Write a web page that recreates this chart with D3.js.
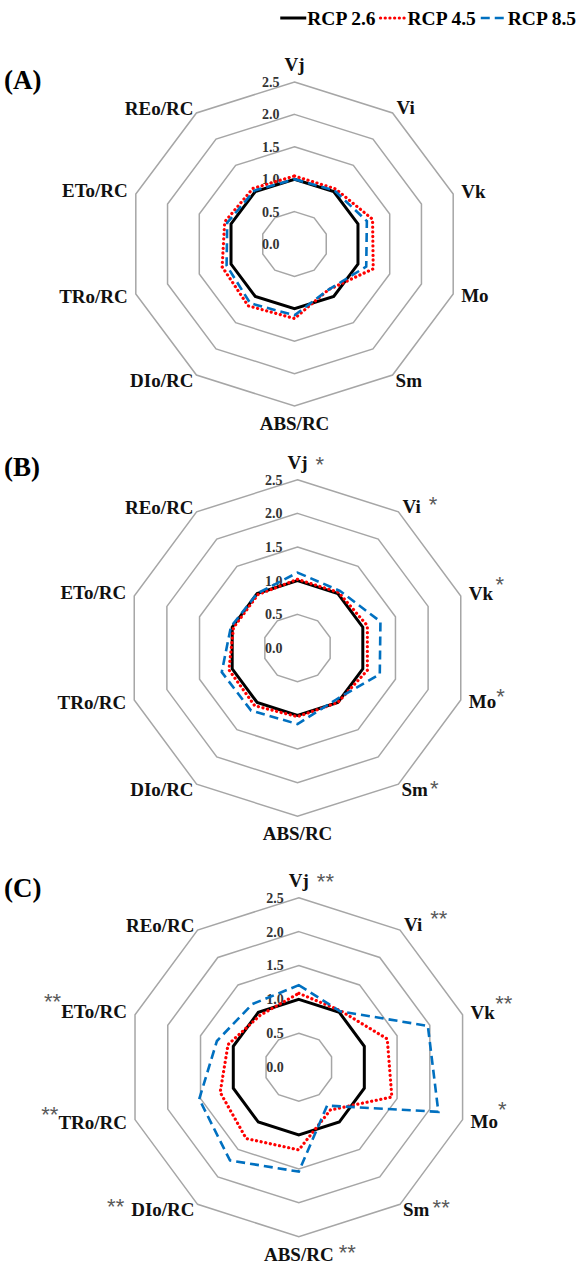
<!DOCTYPE html>
<html>
<head>
<meta charset="utf-8">
<script src="https://cdn.jsdelivr.net/npm/d3@7"></script>
<style>
  body { margin: 0; background: #fff; }
  svg { display: block; }
</style>
</head>
<body>
<div id="chart"></div>
<script>
// axes of the radar, clockwise from the top
const axes = ["Vj", "Vi", "Vk", "Mo", "Sm", "ABS/RC", "DIo/RC", "TRo/RC", "ETo/RC", "REo/RC"];
const series = ["RCP 2.6", "RCP 4.5", "RCP 8.5"];
const ticks = [0, 0.5, 1.0, 1.5, 2.0, 2.5];
const panels = ["(A)", "(B)", "(C)"];

// values
const rcp26A = [1, 1, 1, 1, 1, 1, 1, 1, 1, 1];
const rcp45A = [1.05, 1.05, 1.23, 1.24, 0.87, 1.15, 1.18, 1.14, 1.10, 1.06];
const rcp85A = [1.00, 1.02, 1.14, 1.13, 0.87, 1.10, 1.13, 1.07, 1.06, 1.02];

const rcp26B = [1, 1, 1, 1, 1, 1, 1, 1, 1, 1];
const rcp45B = [1.02, 1.02, 1.07, 1.07, 1.00, 1.02, 1.06, 1.05, 0.98, 0.98];
const rcp85B = [1.12, 1.05, 1.27, 1.26, 0.95, 1.13, 1.15, 1.16, 1.02, 1.00];

const rcp26C = [1, 1, 1, 1, 1, 1, 1, 1, 1, 1];
const rcp45C = [1.09, 1.03, 1.35, 1.42, 0.78, 1.22, 1.30, 1.20, 1.08, 0.95];
const rcp85C = [1.21, 1.02, 1.97, 2.13, 0.70, 1.54, 1.70, 1.52, 1.25, 1.15];

// significance marks per axis
const starsA = ["", "", "", "", "", "", "", "", "", ""];
const starsB = ["*", "*", "*", "*", "*", "", "", "", "", ""];
const starsC = ["**", "**", "**", "*", "**", "**", "**", "**", "**", ""];

const W = 578, H = 1266;
const serif = "'Liberation Serif', 'Times New Roman', 'DejaVu Serif', serif";

const svg = d3.select("#chart")
  .append("svg")
  .attr("width", W)
  .attr("height", H);

svg.append("rect").attr("width", W).attr("height", H).attr("fill", "#fff");

const styles = [
  { color: "#000000", width: 3, dash: null, cap: "butt" },
  { color: "#ff0000", width: 3.2, dash: "0.1 4.6", cap: "round" },
  { color: "#0070c0", width: 2.6, dash: "9 5", cap: "butt" }
];

// where each radar sits (centre, outer radius, small horizontal stretch)
const layout = [
  { cx: 294.5, cy: 244, R: 162, sx: 1.03, letterY: 89, data: [rcp26A, rcp45A, rcp85A], stars: starsA },
  { cx: 297.5, cy: 648, R: 168.3, sx: 1.02, letterY: 476, data: [rcp26B, rcp45B, rcp85B], stars: starsB },
  { cx: 298.8, cy: 1067.2, R: 169.5, sx: 1.016, letterY: 897, data: [rcp26C, rcp45C, rcp85C], stars: starsC }
];

// label offsets from the outer vertex: [dx, dy, anchor]
const labelPos = [
  [0, -11, "middle"], [4, 1, "start"], [8, 4, "start"], [8, 8, "start"], [3, 12, "start"],
  [0, 24, "middle"], [-3, 12, "end"], [-8, 9, "end"], [-8, 3, "end"], [-3, 2, "end"]
];
// asterisk placement: side, gap, raise above baseline (per panel)
const starPosB = [
  ["after", 8, 9], ["after", 8, 13], ["after", 2, 20], ["after", 0, 17], ["after", 2, 13]
];
const starPosC = [
  ["after", 8, 10], ["after", 8, 18], ["after", 0, 20], ["after", 0, 23], ["after", 3, 14],
  ["after", 5, 13], ["before", 7, 15], ["before", 0, 19], ["before", 0, 21], ["after", 0, 0]
];
const starPos = [[], starPosB, starPosC];

const angle = i => i * 2 * Math.PI / axes.length;

layout.forEach((p, pi) => {
  const r = d3.scaleLinear().domain([0, 2.5]).range([0, p.R]);
  const pt = (v, i) => [p.cx + p.sx * r(v) * Math.sin(angle(i)), p.cy - r(v) * Math.cos(angle(i))];

  const g = svg.append("g");

  // grid rings
  const ring = d3.line().curve(d3.curveLinearClosed);
  g.selectAll(".ring")
    .data(ticks.filter(t => t > 0))
    .join("path")
    .attr("class", "ring")
    .attr("d", t => ring(axes.map((a, i) => pt(t, i))))
    .attr("fill", "none")
    .attr("stroke", "#a6a6a6")
    .attr("stroke-width", 1.5);

  // tick labels along the top axis
  g.selectAll(".tick")
    .data(ticks)
    .join("text")
    .attr("x", p.cx - 15)
    .attr("y", t => p.cy - r(t))
    .attr("dy", "0.35em")
    .attr("text-anchor", "end")
    .style("font-family", serif)
    .style("font-weight", "bold")
    .style("font-size", "14px")
    .style("fill", "#333")
    .text(t => d3.format(".1f")(t));

  // series
  const line = d3.line().curve(d3.curveLinearClosed);
  p.data.forEach((vals, si) => {
    const st = styles[si];
    g.append("path")
      .attr("d", line(vals.map((v, i) => pt(v, i))))
      .attr("fill", "none")
      .attr("stroke", st.color)
      .attr("stroke-width", st.width)
      .attr("stroke-dasharray", st.dash)
      .attr("stroke-linecap", st.cap)
      .attr("stroke-linejoin", "miter");
  });

  // axis labels
  axes.forEach((name, i) => {
    const v = pt(2.5, i);
    const lp = labelPos[i];
    const t = g.append("text")
      .attr("x", v[0] + lp[0])
      .attr("y", v[1] + lp[1])
      .attr("text-anchor", lp[2])
      .style("font-family", serif)
      .style("font-weight", "bold")
      .style("font-size", "19px")
      .style("fill", "#111")
      .text(name);

    const s = p.stars[i];
    if (s) {
      const sp = starPos[pi][i];
      const bb = t.node().getBBox();
      const base = v[1] + lp[1];
      g.append("text")
        .attr("x", sp[0] === "after" ? bb.x + bb.width + sp[1] : bb.x - sp[1])
        .attr("y", base + 12.5 - sp[2])
        .attr("text-anchor", sp[0] === "after" ? "start" : "end")
        .style("font-family", "Liberation Sans")
        .style("font-size", "22px")
        .style("fill", "#595959")
        .text(s);
    }
  });

  // panel letter
  g.append("text")
    .attr("x", 4)
    .attr("y", p.letterY)
    .style("font-family", serif)
    .style("font-weight", "bold")
    .style("font-size", "27px")
    .text(panels[pi]);
});

// legend, laid out from the right edge
const lg = svg.append("g");
const legLine = 26, legRight = 576;
const items = series.map((name, si) => {
  const t = lg.append("text")
    .attr("y", 25)
    .style("font-family", serif)
    .style("font-weight", "bold")
    .style("font-size", "19.5px")
    .text(name);
  return { t, w: t.node().getComputedTextLength(), st: styles[si] };
});
let lx = legRight - d3.sum(items, d => d.w + legLine + 1) - 2 * 5;
items.forEach(d => {
  lg.append("line")
    .attr("x1", lx).attr("x2", lx + legLine)
    .attr("y1", 18).attr("y2", 18)
    .attr("stroke", d.st.color)
    .attr("stroke-width", d.st.width)
    .attr("stroke-dasharray", d.st.dash)
    .attr("stroke-linecap", d.st.cap);
  d.t.attr("x", lx + legLine + 1);
  lx += legLine + 1 + d.w + 5;
});
</script>
</body>
</html>
